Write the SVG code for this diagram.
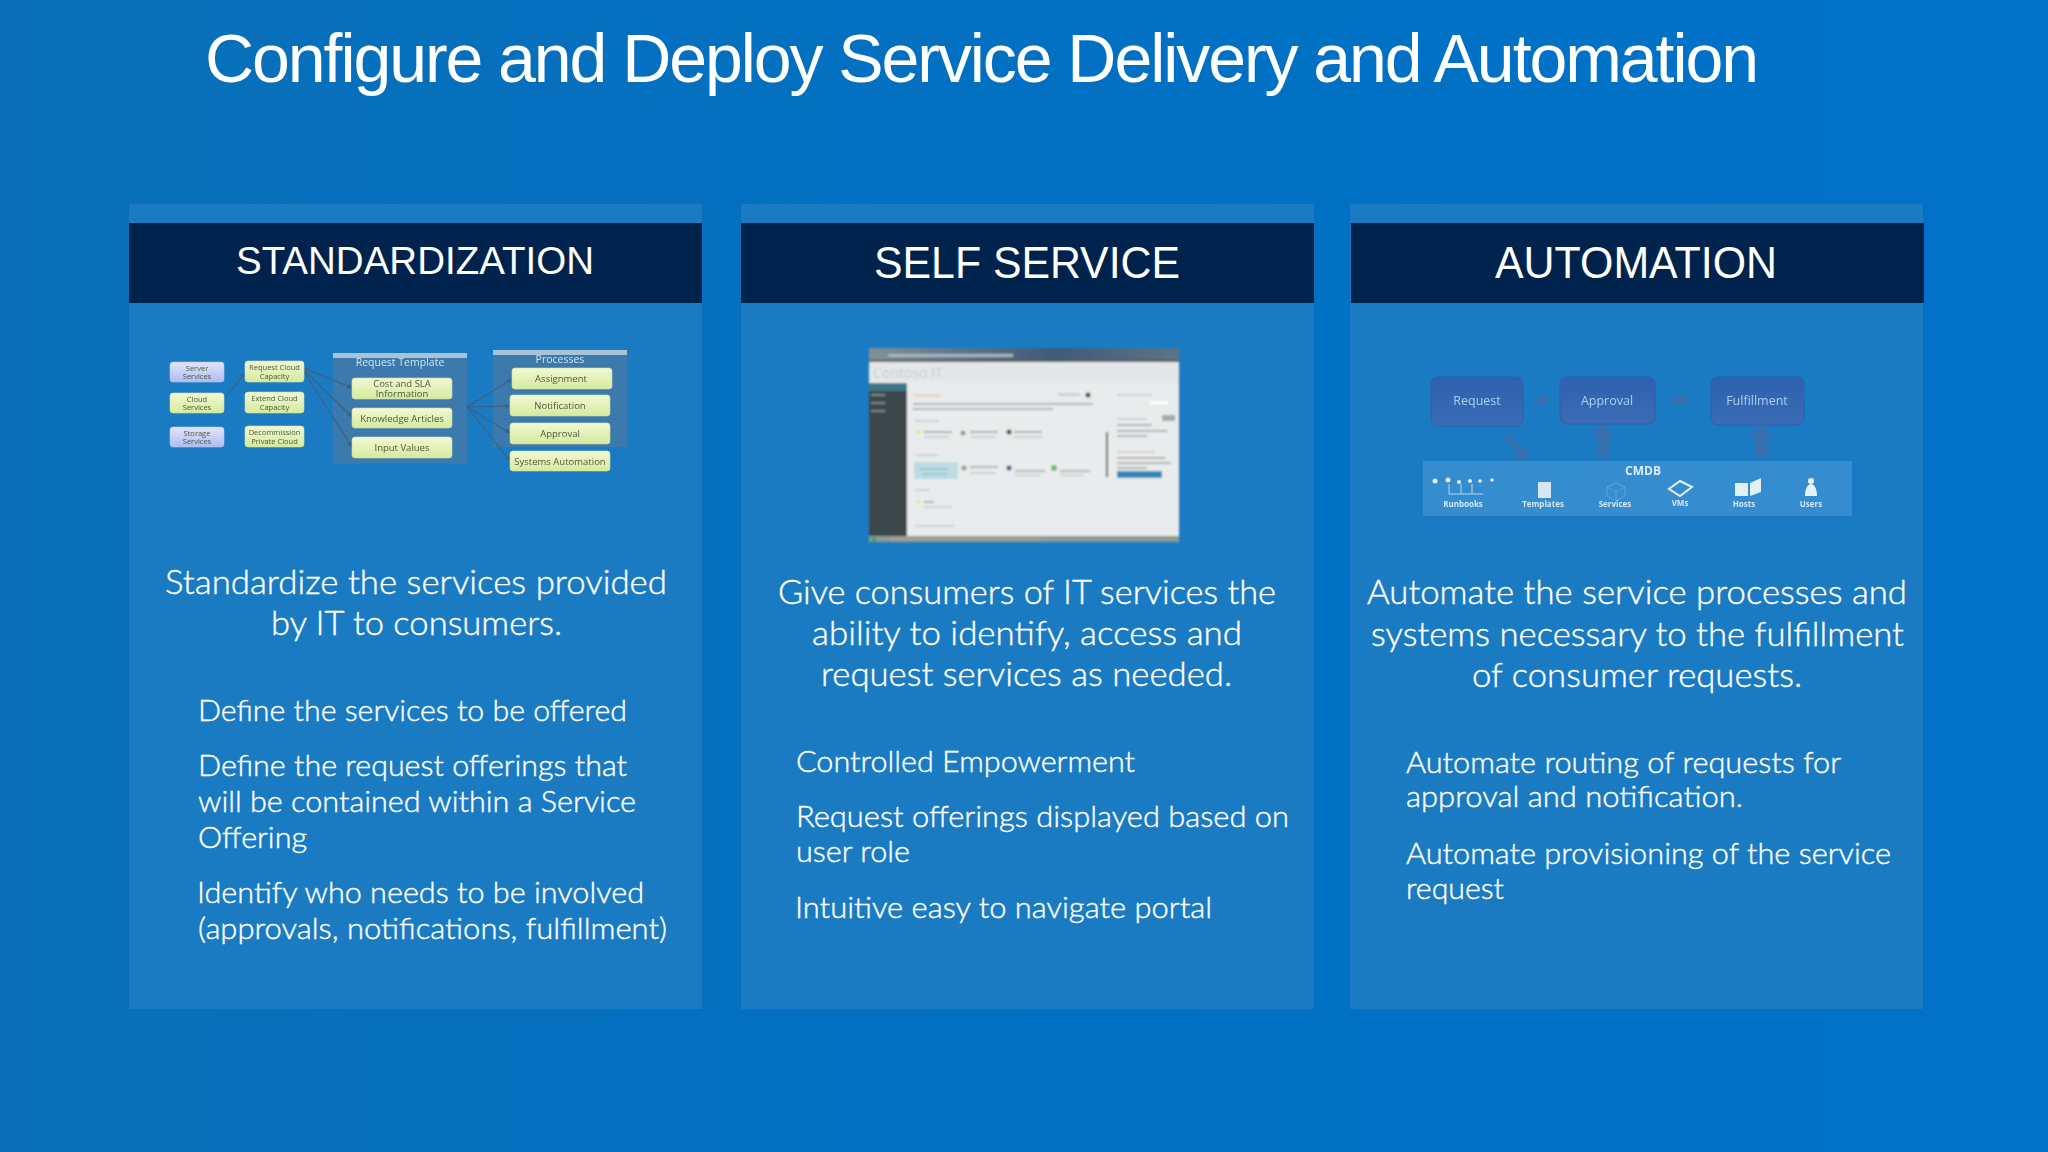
<svg xmlns="http://www.w3.org/2000/svg" width="2048" height="1152" viewBox="0 0 2048 1152">
<style>
.panel{fill:#1a7bc3}
.hdr{fill:#00234d}
text{font-family:"Lato","Open Sans",sans-serif;fill:#fff}
.title{font-family:"Liberation Sans",Arial,sans-serif;font-size:68px}
.h{font-family:"Liberation Sans",Arial,sans-serif;font-size:44px}
.lead{font-size:34px;font-weight:300;stroke:#fff;stroke-width:.4}
.b{font-size:30px;font-weight:300;stroke:#fff;stroke-width:.4}
.g{fill:url(#green);stroke:#c9e2a6;stroke-width:.6}
.p{fill:url(#lilac);stroke:#b9c4ee;stroke-width:.6}
.gt{font-family:"Open Sans",sans-serif;font-size:9.5px;fill:#4c5a3c;text-anchor:middle}
.sm{font-size:7.5px}
.box{fill:#4878a6;opacity:.75}
.bar{fill:#a9c3d6}
.cap{font-family:"Open Sans",sans-serif;font-size:10.5px;fill:#d0e4f2;text-anchor:middle}
.c{stroke:#3f5f80;stroke-width:1.2;fill:none;marker-end:url(#tip)}
.auto{fill:url(#autoB);stroke:#2f5fa6;stroke-width:1}
.at{font-family:"Open Sans",sans-serif;font-size:12.5px;fill:#a9d0ef;text-anchor:middle}
.ar{fill:#3d6aa8;opacity:.8}
.cl{font-family:"Open Sans",sans-serif;font-size:8px;font-weight:700;fill:#d2e6f6;text-anchor:middle}
.sl{fill:#cdd2d4}
.sd{fill:#adb3b5}
</style>
<defs>
<linearGradient id="bg" x1="0" y1="0" x2="1" y2="0"><stop offset="0" stop-color="#0a6fb8"/><stop offset=".5" stop-color="#0170c2"/><stop offset="1" stop-color="#0072c8"/></linearGradient>
<linearGradient id="green" x1="0" y1="0" x2="0" y2="1"><stop offset="0" stop-color="#f2f8d4"/><stop offset="1" stop-color="#d6ea9c"/></linearGradient>
<linearGradient id="lilac" x1="0" y1="0" x2="0" y2="1"><stop offset="0" stop-color="#e2e6fb"/><stop offset="1" stop-color="#aebcf0"/></linearGradient>
<linearGradient id="autoB" x1="0" y1="0" x2="0" y2="1"><stop offset="0" stop-color="#2d62ae"/><stop offset="1" stop-color="#3b6cb6"/></linearGradient>
<linearGradient id="tb" x1="0" y1="0" x2="1" y2="0"><stop offset="0" stop-color="#7f9198"/><stop offset=".6" stop-color="#3f5a78"/><stop offset="1" stop-color="#5d7488"/></linearGradient>
<filter id="blur" x="-5%" y="-5%" width="110%" height="110%"><feGaussianBlur stdDeviation=".8"/></filter>
<filter id="blur2" x="-5%" y="-5%" width="110%" height="110%"><feGaussianBlur stdDeviation=".7"/></filter>
<marker id="tip" markerWidth="5" markerHeight="5" refX="4" refY="2" orient="auto"><path d="M0 0L4 2L0 4Z" fill="#3f5f80"/></marker>
</defs>
<rect id="background" width="2048" height="1152" fill="url(#bg)"/>
<text class="title" x="205" y="82" textLength="1554" lengthAdjust="spacing">Configure and Deploy Service Delivery and Automation</text>

<g id="standardization">
<rect class="panel" x="129" y="204" width="573" height="805"/>
<rect class="hdr" x="129" y="223" width="573" height="80"/>
<text class="h" x="236" y="274" textLength="358" lengthAdjust="spacingAndGlyphs" style="font-size:39px">STANDARDIZATION</text>
<text class="lead" x="165" y="594" textLength="502" lengthAdjust="spacingAndGlyphs">Standardize the services provided</text>
<text class="lead" x="271" y="635" textLength="291" lengthAdjust="spacingAndGlyphs">by IT to consumers.</text>
<text class="b" x="198" y="721" textLength="429" lengthAdjust="spacingAndGlyphs">Define the services to be offered</text>
<text class="b" x="198" y="776" textLength="429" lengthAdjust="spacingAndGlyphs">Define the request offerings that</text>
<text class="b" x="198" y="812" textLength="438" lengthAdjust="spacingAndGlyphs">will be contained within a Service</text>
<text class="b" x="198" y="848" textLength="109" lengthAdjust="spacingAndGlyphs">Offering</text>
<text class="b" x="197" y="903" textLength="447" lengthAdjust="spacingAndGlyphs">Identify who needs to be involved</text>
<text class="b" x="198" y="939" textLength="469" lengthAdjust="spacingAndGlyphs">(approvals, notifications, fulfillment)</text>
</g>

<g id="self-service">
<rect class="panel" x="741" y="204" width="573" height="805"/>
<rect class="hdr" x="741" y="223" width="573" height="80"/>
<text class="h" x="874" y="278" textLength="306" lengthAdjust="spacingAndGlyphs">SELF SERVICE</text>
<text class="lead" x="778" y="604" textLength="498" lengthAdjust="spacingAndGlyphs">Give consumers of IT services the</text>
<text class="lead" x="812" y="645" textLength="430" lengthAdjust="spacingAndGlyphs">ability to identify, access and</text>
<text class="lead" x="821" y="686" textLength="411" lengthAdjust="spacingAndGlyphs">request services as needed.</text>
<text class="b" x="796" y="772" textLength="339" lengthAdjust="spacingAndGlyphs">Controlled Empowerment</text>
<text class="b" x="796" y="827" textLength="493" lengthAdjust="spacingAndGlyphs">Request offerings displayed based on</text>
<text class="b" x="796" y="862" textLength="114" lengthAdjust="spacingAndGlyphs">user role</text>
<text class="b" x="795" y="918" textLength="417" lengthAdjust="spacingAndGlyphs">Intuitive easy to navigate portal</text>
</g>

<g id="automation">
<rect class="panel" x="1350" y="204" width="573" height="805"/>
<rect class="hdr" x="1351" y="223" width="573" height="80"/>
<text class="h" x="1495" y="278" textLength="282" lengthAdjust="spacingAndGlyphs">AUTOMATION</text>
<text class="lead" x="1367" y="604" textLength="540" lengthAdjust="spacingAndGlyphs">Automate the service processes and</text>
<text class="lead" x="1371" y="646" textLength="533" lengthAdjust="spacingAndGlyphs">systems necessary to the fulfillment</text>
<text class="lead" x="1472" y="687" textLength="330" lengthAdjust="spacingAndGlyphs">of consumer requests.</text>
<text class="b" x="1406" y="773" textLength="435" lengthAdjust="spacingAndGlyphs">Automate routing of requests for</text>
<text class="b" x="1406" y="807" textLength="337" lengthAdjust="spacingAndGlyphs">approval and notification.</text>
<text class="b" x="1406" y="864" textLength="485" lengthAdjust="spacingAndGlyphs">Automate provisioning of the service</text>
<text class="b" x="1406" y="899" textLength="98" lengthAdjust="spacingAndGlyphs">request</text>
</g>

<g filter="url(#blur2)">
<g id="request-template"><rect class="box" x="333" y="353" width="134" height="111"/><rect class="bar" x="333" y="353" width="134" height="5"/><text class="cap" x="400" y="366">Request Template</text></g>
<g id="processes"><rect class="box" x="493" y="350" width="134" height="97"/><rect class="bar" x="493" y="350" width="134" height="5"/><text class="cap" x="560" y="363">Processes</text></g>
<g id="connectors">
<path class="c" d="M225 398L245 373"/>
<path class="c" d="M304 368L352 388"/>
<path class="c" d="M304 370L352 417"/>
<path class="c" d="M304 372L352 447"/>
<path class="c" d="M467 407L512 379"/>
<path class="c" d="M467 407L510 406"/>
<path class="c" d="M467 407L510 433"/>
<path class="c" d="M467 407L510 461"/>
</g>
<g id="server-services"><rect class="p" x="170" y="362" width="54" height="20" rx="3"/><text class="gt sm" x="197" y="370.500">Server</text><text class="gt sm" x="197" y="379">Services</text></g>
<g id="cloud-services"><rect class="g" x="170" y="393" width="54" height="20" rx="3"/><text class="gt sm" x="197" y="401.500">Cloud</text><text class="gt sm" x="197" y="410">Services</text></g>
<g id="storage-services"><rect class="p" x="170" y="427" width="54" height="20" rx="3"/><text class="gt sm" x="197" y="435.500">Storage</text><text class="gt sm" x="197" y="444">Services</text></g>
<g id="request-cloud"><rect class="g" x="245" y="361" width="59" height="21" rx="3"/><text class="gt sm" x="274.500" y="370">Request Cloud</text><text class="gt sm" x="274.500" y="379">Capacity</text></g>
<g id="extend-cloud"><rect class="g" x="245" y="392" width="59" height="21" rx="3"/><text class="gt sm" x="274.500" y="401">Extend Cloud</text><text class="gt sm" x="274.500" y="410">Capacity</text></g>
<g id="decommission"><rect class="g" x="245" y="426" width="59" height="21" rx="3"/><text class="gt sm" x="274.500" y="435">Decommission</text><text class="gt sm" x="274.500" y="444">Private Cloud</text></g>
<g id="cost-sla"><rect class="g" x="352" y="378" width="100" height="21" rx="3"/><text class="gt" x="402" y="387">Cost and SLA</text><text class="gt" x="402" y="397">Information</text></g>
<g id="knowledge"><rect class="g" x="352" y="408" width="100" height="20" rx="3"/><text class="gt" x="402" y="421.500">Knowledge Articles</text></g>
<g id="input-values"><rect class="g" x="352" y="437" width="100" height="21" rx="3"/><text class="gt" x="402" y="451">Input Values</text></g>
<g id="assignment"><rect class="g" x="512" y="368" width="100" height="21" rx="3"/><text class="gt" x="561" y="382">Assignment</text></g>
<g id="notification"><rect class="g" x="510" y="395" width="100" height="21" rx="3"/><text class="gt" x="560" y="409">Notification</text></g>
<g id="approval"><rect class="g" x="510" y="423" width="100" height="21" rx="3"/><text class="gt" x="560" y="437">Approval</text></g>
<g id="systems-automation"><rect class="g" x="510" y="451" width="100" height="20" rx="3"/><text class="gt" x="560" y="465">Systems Automation</text></g>
</g>

<g id="portal-screenshot" filter="url(#blur)">
<rect x="869" y="348" width="310" height="194" fill="#e9ecec"/>
<rect x="869" y="348" width="310" height="14" fill="url(#tb)"/>
<rect x="888" y="354" width="125" height="3" fill="#a9b5bc"/>
<rect x="869" y="360" width="310" height="2" fill="#55595c"/>
<rect x="869" y="362" width="310" height="20" fill="#e4e7e7"/>
<text x="873" y="378" style="font-family:'Open Sans',sans-serif;font-size:14px;fill:#c2cdd0">Contoso IT</text>
<rect x="869" y="383" width="38" height="154" fill="#3a4649"/>
<rect x="869" y="383" width="38" height="8" fill="#3c7688"/>
<rect x="871" y="394" width="14" height="2" fill="#7d898b"/><rect x="871" y="402" width="14" height="2" fill="#7d898b"/><rect x="871" y="410" width="14" height="2" fill="#7d898b"/>
<rect x="913" y="394" width="28" height="3" fill="#ead6ca"/>
<rect x="913" y="403" width="180" height="2" class="sd"/><rect x="913" y="408" width="140" height="2" class="sd"/>
<rect x="1058" y="393" width="22" height="3" class="sl"/><circle cx="1088" cy="395" r="2.500" fill="#444"/>
<rect x="915" y="420" width="24" height="2" class="sl"/><rect x="915" y="454" width="24" height="2" class="sl"/><rect x="915" y="489" width="15" height="2" class="sl"/><rect x="915" y="525" width="40" height="2" class="sl"/>
<g>
<circle cx="918" cy="432" r="2" fill="#f0e070"/><rect x="924" y="431" width="28" height="2" class="sd"/><rect x="924" y="436" width="26" height="2" class="sl"/>
<circle cx="963" cy="433" r="2.500" fill="#8a9a8a"/><rect x="970" y="431" width="28" height="2" class="sd"/><rect x="970" y="436" width="26" height="2" class="sl"/>
<circle cx="1009" cy="432" r="2.500" fill="#444"/><rect x="1014" y="431" width="28" height="2" class="sd"/><rect x="1014" y="436" width="28" height="2" class="sl"/>
<rect x="914" y="462" width="44" height="17" fill="#bcdbe4"/><rect x="920" y="468" width="28" height="2" fill="#98c2d4"/><rect x="923" y="473" width="24" height="2" fill="#98c2d4"/>
<circle cx="964" cy="468" r="2.500" fill="#8a9a8a"/><rect x="970" y="466" width="28" height="2" class="sd"/><rect x="970" y="472" width="26" height="2" class="sl"/>
<circle cx="1009" cy="468" r="2.500" fill="#3f4f80"/><rect x="1015" y="470" width="30" height="2" class="sd"/><rect x="1015" y="474" width="26" height="2" class="sl"/>
<circle cx="1054" cy="468" r="3" fill="#6fb86a"/><rect x="1060" y="470" width="30" height="2" class="sd"/><rect x="1060" y="474" width="24" height="2" class="sl"/>
<circle cx="918" cy="502" r="2" fill="#f0e070"/><rect x="924" y="501" width="10" height="2" class="sd"/><rect x="924" y="506" width="28" height="2" class="sl"/>
</g>
<rect x="1106" y="432" width="2" height="45" fill="#555"/>
<rect x="1117" y="394" width="35" height="2" class="sl"/><rect x="1150" y="401" width="18" height="3" fill="#fff"/>
<rect x="1162" y="415" width="13" height="6" fill="#a9a9a9"/>
<rect x="1117" y="418" width="30" height="2" class="sl"/><rect x="1117" y="424" width="35" height="2" class="sd"/><rect x="1117" y="430" width="50" height="2" class="sd"/><rect x="1117" y="435" width="30" height="2" class="sd"/>
<rect x="1117" y="451" width="38" height="2" fill="#dccfc5"/><rect x="1117" y="457" width="48" height="2" class="sd"/><rect x="1117" y="462" width="54" height="2" class="sd"/><rect x="1117" y="467" width="30" height="2" class="sd"/>
<rect x="1117" y="471" width="45" height="7" fill="#2a88b8"/>
<rect x="869" y="536" width="310" height="6" fill="#8f9a96"/>
<rect x="872" y="537" width="4" height="5" fill="#3f9a6a"/><rect x="890" y="537" width="150" height="4" fill="#a69c90"/>
</g>

<g id="automation-flow" filter="url(#blur2)">
<g id="cmdb">
<rect x="1423" y="461" width="429" height="55" fill="#4a9ad8" opacity=".55"/>
<text x="1643" y="475" style="font-family:'Open Sans',sans-serif;font-size:12px;font-weight:700;fill:#dcecf8;text-anchor:middle">CMDB</text>
<g fill="#e6eff6"><circle cx="1435" cy="481" r="2.500"/><circle cx="1448" cy="480" r="2.500"/><circle cx="1459" cy="482" r="2"/><circle cx="1470" cy="481" r="2"/><circle cx="1480" cy="481" r="1.800"/><circle cx="1492" cy="480" r="1.800"/></g>
<path d="M1449 484V494H1483M1461 484V494M1472 484V494" stroke="#d7e8f5" stroke-width=".8" fill="none"/>
<rect x="1538" y="482" width="13" height="16" fill="#d6e6f3"/>
<path d="M1616 483l9 4v9l-9 5-9-5v-9zM1607 487l9 5 9-5M1616 492v9" fill="none" stroke="#6ea9d6" stroke-width=".8"/>
<path d="M1680 481l12 6-12 9-11-7z" fill="none" stroke="#e6f0f8" stroke-width="2"/>
<path d="M1735 483h13v13h-13zM1750 483l11-5v14l-11 4z" fill="#e2eef8"/>
<circle cx="1811" cy="481" r="3" fill="#e8f1f8"/><path d="M1805 496c0-8 3-12 6-12s6 4 6 12z" fill="#e8f1f8"/>
<text class="cl" x="1463" y="507">Runbooks</text><text class="cl" x="1543" y="507">Templates</text><text class="cl" x="1615" y="507">Services</text><text class="cl" x="1680" y="506">VMs</text><text class="cl" x="1744" y="507">Hosts</text><text class="cl" x="1811" y="507">Users</text>
</g>
<g id="request-node"><rect class="auto" x="1431" y="377" width="92" height="49" rx="7"/><text class="at" x="1477" y="405">Request</text></g>
<g id="approval-node"><rect class="auto" x="1560" y="377" width="95" height="47" rx="7"/><text class="at" x="1607" y="405">Approval</text></g>
<g id="fulfillment-node"><rect class="auto" x="1711" y="377" width="93" height="48" rx="7"/><text class="at" x="1757" y="405">Fulfillment</text></g>
<g id="flow-connectors">
<path class="ar" d="M1533 397h8v-4l9 7-9 7v-4h-8z"/>
<path class="ar" d="M1672 397h7v-4l9 7-9 7v-4h-7z"/>
<path class="ar" d="M1597 458v-22h-6l12-13 12 13h-6v22z"/>
<path class="ar" d="M1755 458v-21h-6l12-12 12 12h-6v21z"/>
<path class="ar" d="M1504 438l5-4 13 15 5-4 1 15-14-3 5-4z"/>
</g>
</g>
</svg>
